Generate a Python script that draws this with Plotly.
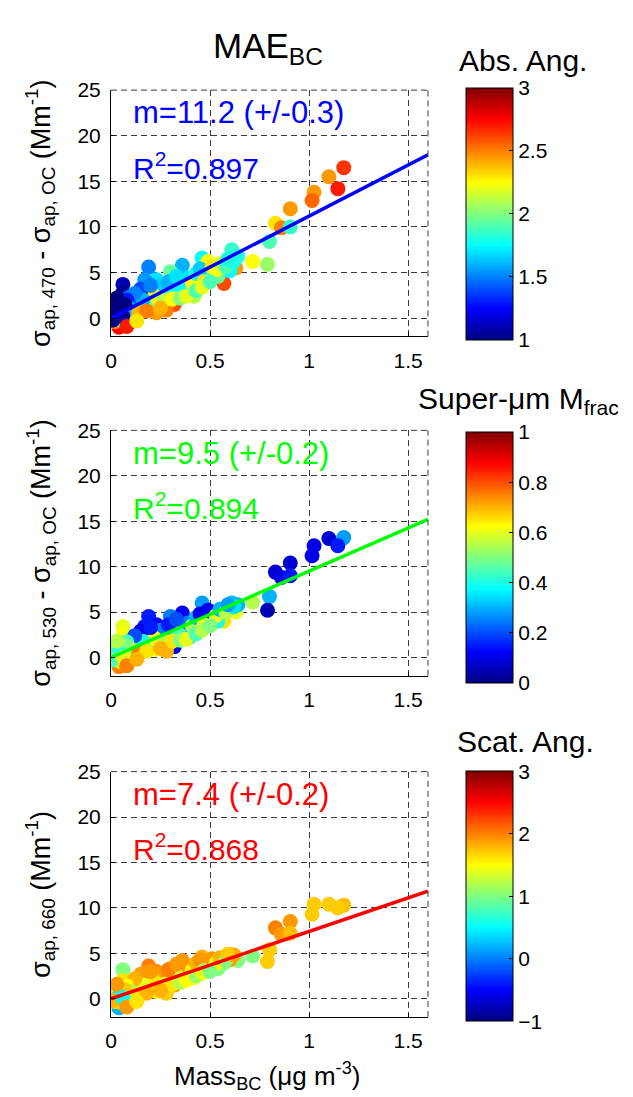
import plotly.graph_objects as go

# ---- data (Mass_BC, ug m-3) shared by the three panels ----
mass_bc = [1.175, 1.10, 1.145, 1.025, 1.015, 0.905, 0.83, 0.86, 0.905, 0.80,
           0.715, 0.79, 0.63, 0.57, 0.61, 0.64, 0.46, 0.49, 0.36, 0.19,
           0.30, 0.23, 0.17, 0.06, 0.06, 0.40, 0.32, 0.24, 0.23, 0.42,
           0.48, 0.52, 0.56, 0.54, 0.04, 0.02, 0.02, 0.05, 0.09, 0.13,
           0.18, 0.14, 0.20, 0.27, 0.35, 0.38, 0.37, 0.10, 0.08, 0.03,
           0.01, 0.04, 0.07, 0.11, 0.16, 0.12, 0.21, 0.26, 0.29, 0.33,
           0.44, 0.50, 0.60, 0.15, 0.06, 0.03, 0.09, 0.05, 0.19, 0.28,
           0.25, 0.31, 0.34, 0.39, 0.41, 0.43, 0.45, 0.47, 0.51, 0.53,
           0.55, 0.58, 0.62, 0.59, 0.22, 0.27, 0.31, 0.35, 0.38, 0.43,
           0.46, 0.50, 0.16, 0.12, 0.08, 0.10, 0.14, 0.18, 0.07, 0.02,
           0.04, 0.01, 0.06, 0.03, 0.08, 0.13, 0.25, 0.20, 0.29, 0.33]

# panel 1: sigma_ap,470 - sigma_ap,OC, colour = absorption Angstrom exponent
sig470 = [16.5, 15.5, 14.2, 13.8, 12.9, 12.0, 10.4, 9.9, 10.0, 8.4,
          6.2, 5.9, 5.5, 3.8, 7.5, 6.8, 6.6, 6.2, 5.8, 5.6,
          5.1, 4.2, 4.2, 3.7, 2.8, 3.2, 1.5, 1.7, 0.6, 2.4,
          4.2, 5.0, 5.7, 4.6, -1.0, -0.4, 0.6, 1.7, 1.2, 2.2,
          2.6, 1.8, 2.9, 3.3, 4.1, 3.8, 2.7, 0.3, -0.4, 0.0,
          0.3, 1.0, 0.5, 1.6, 1.0, 0.4, 2.0, 2.3, 1.8, 2.5,
          3.6, 4.8, 5.2, 3.2, 0.8, 1.3, 2.3, -0.2, 1.4, 0.9,
          3.5, 3.0, 3.4, 4.4, 3.9, 4.9, 5.4, 4.0, 5.6, 5.3,
          6.0, 5.6, 6.2, 6.5, 2.4, 2.0, 2.1, 2.2, 2.4, 3.0,
          3.4, 4.0, 2.0, 2.7, 2.0, 1.0, 0.6, 0.8, 1.5, 1.0,
          0.4, -0.2, 0.2, 2.2, -0.9, -0.3, 1.1, 3.6, 4.0, 4.6]
abs_ang = [2.65, 2.45, 2.7, 2.45, 2.55, 2.45, 2.3, 2.5, 1.85, 1.9,
           2.25, 2.05, 2.45, 2.6, 1.85, 1.8, 1.75, 2.25, 1.6, 1.5,
           1.95, 1.7, 1.55, 1.1, 1.05, 1.7, 2.6, 1.95, 2.45, 2.1,
           2.3, 2.4, 2.2, 1.95, 2.75, 2.5, 1.05, 1.05, 1.3, 1.35,
           1.6, 1.4, 2.8, 1.9, 2.2, 2.05, 1.75, 2.2, 1.7, 1.0,
           1.0, 1.0, 1.3, 1.2, 2.3, 2.25, 1.7, 1.5, 2.3, 1.85,
           2.3, 1.8, 1.75, 1.4, 1.15, 1.1, 1.45, 1.9, 2.0, 2.5,
           1.65, 1.8, 1.75, 1.7, 2.25, 1.8, 1.65, 2.3, 2.3, 2.25,
           2.2, 1.9, 1.8, 1.8, 2.2, 2.1, 2.25, 2.0, 2.2, 1.9,
           2.2, 1.9, 1.6, 1.5, 1.3, 1.6, 2.4, 2.5, 1.0, 1.0,
           1.0, 1.0, 1.05, 1.0, 2.7, 2.3, 2.4, 1.5, 1.6, 1.7]

# panel 2: sigma_ap,530 - sigma_ap,OC, colour = super-micron mass fraction
sig530 = [13.2, 13.1, 12.3, 12.3, 11.2, 10.4, 9.4, 8.8, 9.0, 6.7,
          6.1, 5.2, 5.0, 4.0, 6.0, 5.8, 6.0, 5.2, 4.9, 4.5,
          4.5, 3.6, 3.4, 3.4, 2.5, 2.3, 1.2, 1.7, 0.9, 2.6,
          3.8, 4.4, 4.8, 4.0, -1.0, -0.3, 0.5, 1.5, 1.0, 2.0,
          2.3, 1.6, 2.2, 2.8, 3.1, 3.4, 2.5, 0.2, -0.3, 0.3,
          0.1, 0.8, 0.4, 1.5, 1.1, 0.2, 1.8, 2.0, 1.5, 2.0,
          3.2, 4.3, 5.5, 2.9, 0.8, 1.0, 2.0, -0.5, 1.2, 0.7,
          3.0, 2.6, 3.0, 3.8, 3.5, 4.4, 4.8, 3.6, 5.0, 4.6,
          5.3, 5.0, 5.6, 5.8, 2.1, 1.8, 1.8, 1.9, 2.0, 2.6,
          3.0, 3.5, 1.8, 2.4, 1.7, 0.9, 0.4, 0.7, 1.3, 0.9,
          0.5, -0.2, 0.0, 1.8, -0.9, -0.2, 1.0, 3.3, 3.6, 4.2]
super_frac = [0.28, 0.08, 0.15, 0.10, 0.10, 0.08, 0.08, 0.10, 0.15, 0.30,
              0.55, 0.05, 0.60, 0.65, 0.30, 0.30, 0.28, 0.10, 0.12, 0.15,
              0.25, 0.12, 0.15, 0.60, 0.62, 0.35, 0.10, 0.45, 0.60, 0.60,
              0.62, 0.60, 0.62, 0.40, 0.75, 0.40, 0.35, 0.60, 0.75, 0.50,
              0.45, 0.70, 0.20, 0.10, 0.12, 0.15, 0.30, 0.65, 0.70, 0.40,
              0.35, 0.30, 0.80, 0.55, 0.60, 0.65, 0.30, 0.20, 0.60, 0.45,
              0.60, 0.35, 0.20, 0.10, 0.40, 0.55, 0.60, 0.65, 0.40, 0.70,
              0.25, 0.30, 0.45, 0.25, 0.55, 0.30, 0.10, 0.62, 0.12, 0.60,
              0.30, 0.55, 0.35, 0.28, 0.62, 0.55, 0.65, 0.50, 0.60, 0.45,
              0.55, 0.50, 0.40, 0.20, 0.45, 0.55, 0.75, 0.65, 0.50, 0.45,
              0.40, 0.45, 0.60, 0.55, 0.75, 0.70, 0.70, 0.15, 0.15, 0.20]

# panel 3: sigma_ap,660, colour = scattering Angstrom exponent
sig660 = [10.3, 10.4, 10.0, 10.4, 9.3, 8.5, 7.8, 7.1, 7.2, 5.4,
          4.7, 4.1, 4.6, 3.9, 4.8, 4.2, 4.6, 4.0, 4.2, 3.6,
          3.3, 3.0, 2.8, 3.2, 2.0, 2.5, 1.5, 1.5, 0.8, 2.3,
          3.6, 3.8, 4.1, 3.3, -1.0, -0.3, 0.6, 1.4, 0.8, 1.6,
          2.0, 1.3, 1.9, 2.6, 3.0, 3.2, 2.1, 0.4, -0.5, 0.2,
          0.0, 0.5, 0.6, 1.0, 0.7, 0.0, 1.7, 2.0, 1.3, 2.0,
          3.0, 3.8, 4.3, 2.7, 0.3, 0.9, 1.8, -0.4, 1.1, 0.6,
          2.8, 2.4, 2.7, 3.5, 3.1, 3.9, 4.3, 3.1, 4.4, 3.9,
          4.5, 4.2, 4.8, 4.9, 1.9, 1.6, 1.6, 1.8, 2.0, 2.5,
          2.8, 3.0, 1.5, 2.2, 1.4, 0.8, 0.5, 0.6, 1.0, 0.8,
          0.3, -0.2, 0.1, 1.6, -0.9, -0.3, 0.9, 3.0, 3.2, 3.8]
scat_ang = [1.75, 1.7, 1.7, 1.7, 1.7, 1.9, 2.0, 1.9, 1.75, 1.7,
            1.0, 1.7, 1.85, 1.0, 1.8, 1.0, 1.8, 1.9, 1.9, 2.0,
            1.9, 2.0, 1.9, 1.0, 1.6, 1.5, 1.9, 1.4, 1.5, 1.5,
            1.5, 1.0, 1.0, 1.0, 0.2, 1.6, 1.8, 1.7, 2.0, 1.5,
            1.3, 1.6, 1.8, 1.8, 1.8, 1.8, 1.2, 0.6, 0.2, 2.1,
            2.2, 1.5, 0.3, 1.2, 1.6, 1.4, 1.2, 1.2, 1.5, 1.1,
            1.6, 1.9, 1.9, 1.9, 0.5, 1.9, 1.6, 1.7, 1.0, 1.7,
            1.9, 1.7, 1.3, 1.9, 1.5, 1.8, 1.9, 1.1, 1.9, 1.5,
            1.8, 1.0, 1.85, 1.7, 1.6, 1.4, 1.6, 1.2, 1.5, 1.1,
            1.4, 1.0, 1.4, 1.8, 1.5, 1.2, 1.6, 1.8, 1.7, 1.6,
            0.4, 1.8, 0.5, 1.9, 1.9, 1.6, 1.8, 1.9, 2.0, 1.9]

slopes = [11.2, 9.5, 7.4]
slope_err = [0.3, 0.2, 0.2]
r2 = [0.897, 0.894, 0.868]
fit_x = [0.0, 1.6]
fit_colors = ["#0000ff", "#00ff00", "#ff0000"]
cb_ranges = [(1, 3), (0, 1), (-1, 3)]
cb_ticks = [[1, 1.5, 2, 2.5, 3], [0, 0.2, 0.4, 0.6, 0.8, 1], [-1, 0, 1, 2, 3]]
cb_titles = ["Abs. Ang.", "Super-\u03bcm M<sub>frac</sub>", "Scat. Ang."]
y_titles = ["\u03c3<sub>ap, 470</sub> - \u03c3<sub>ap, OC</sub> (Mm<sup>-1</sup>)",
            "\u03c3<sub>ap, 530</sub> - \u03c3<sub>ap, OC</sub> (Mm<sup>-1</sup>)",
            "\u03c3<sub>ap, 660</sub> (Mm<sup>-1</sup>)"]
x_ticks = [0, 0.5, 1, 1.5]
y_ticks = [0, 5, 10, 15, 20, 25]

# ---- layout geometry (pixels) ----
W, H = 633, 1097
FONT = "Liberation Sans, Arial, Helvetica, sans-serif"
ax_left, ax_right = 106, 426
ax_tb = [(79, 328), (423, 671), (768, 1016)]
cb_left, cb_w = 464, 47
cb_tb = [(78, 330), (426, 677), (769, 1019)]
GRID = "#3a3a3a"
DASH = "6px,4px"

jet = [[0.0, "rgb(0,0,128)"], [0.125, "rgb(0,0,255)"], [0.375, "rgb(0,255,255)"],
       [0.625, "rgb(255,255,0)"], [0.875, "rgb(255,0,0)"], [1.0, "rgb(128,0,0)"]]


def px(x):
    return x / W


def py(y):
    return 1 - y / H


fig = go.Figure()
ys = [sig470, sig530, sig660]
cs = [abs_ang, super_frac, scat_ang]

for i in range(3):
    xa = "x" if i == 0 else f"x{i+1}"
    ya = "y" if i == 0 else f"y{i+1}"
    top, bot = cb_tb[i]
    fig.add_trace(go.Scatter(
        x=mass_bc, y=ys[i], mode="markers", xaxis=xa, yaxis=ya,
        marker=dict(size=15, color=cs[i], colorscale=jet,
                    cmin=cb_ranges[i][0], cmax=cb_ranges[i][1],
                    line=dict(width=0),
                    colorbar=dict(
                        x=px(cb_left), xanchor="left", xpad=0, ypad=0,
                        y=py((top + bot) / 2), yanchor="middle",
                        len=bot - top, lenmode="pixels",
                        thickness=cb_w, thicknessmode="pixels",
                        outlinecolor="black", outlinewidth=1,
                        tickvals=cb_ticks[i], ticks="inside", ticklen=4,
                        tickcolor="black",
                        tickfont=dict(family=FONT, size=21, color="black"))),
        showlegend=False, hoverinfo="skip"))
    fit_y = [slopes[i] * v for v in fit_x]
    fig.add_trace(go.Scatter(
        x=fit_x, y=fit_y, mode="lines", xaxis=xa, yaxis=ya,
        line=dict(color=fit_colors[i], width=3.5), showlegend=False,
        hoverinfo="skip"))

    t, b = ax_tb[i]
    axis_common = dict(showline=True, linecolor="black", linewidth=1,
                       showgrid=True, gridcolor=GRID, gridwidth=1,
                       griddash=DASH, zeroline=False,
                       ticks="inside", ticklen=4, tickcolor="black",
                       ticklabelstandoff=5,
                       tickfont=dict(family=FONT, size=21, color="black"))
    fig.layout[f"xaxis{'' if i == 0 else i+1}"] = dict(
        domain=[px(ax_left), px(ax_right)], anchor=ya, range=[0, 1.6],
        tickvals=x_ticks, ticktext=["0", "0.5", "1", "1.5"], **axis_common)
    fig.layout[f"yaxis{'' if i == 0 else i+1}"] = dict(
        domain=[py(b), py(t)], anchor=xa, range=[-2, 25],
        tickvals=y_ticks, **axis_common)

    # dashed top and right borders
    fig.add_shape(type="line", xref=f"{xa} domain", yref=f"{ya} domain",
                  x0=0, x1=1, y0=1, y1=1,
                  line=dict(color=GRID, width=1, dash=DASH))
    fig.add_shape(type="line", xref=f"{xa} domain", yref=f"{ya} domain",
                  x0=1, x1=1, y0=0, y1=1,
                  line=dict(color=GRID, width=1, dash=DASH))

    # fit annotations
    fig.add_annotation(x=0.1, y=22.5, xref=xa, yref=ya, xanchor="left",
                       yanchor="middle", showarrow=False,
                       text=f"m={slopes[i]} (+/-{slope_err[i]})",
                       font=dict(family=FONT, size=31, color=fit_colors[i]))
    fig.add_annotation(x=0.1, y=16.7, xref=xa, yref=ya, xanchor="left",
                       yanchor="middle", showarrow=False,
                       text=f"R<sup>2</sup>={r2[i]}",
                       font=dict(family=FONT, size=30, color=fit_colors[i]))

    # y-axis title
    fig.add_annotation(x=px(35), y=py((t + b) / 2), xref="paper", yref="paper",
                       xanchor="center", yanchor="middle", showarrow=False,
                       textangle=-90, text=y_titles[i],
                       font=dict(family=FONT, size=27, color="black"))

# colourbar titles
fig.add_annotation(x=px(522), y=py(49), xref="paper", yref="paper",
                   xanchor="center", yanchor="middle", showarrow=False,
                   text=cb_titles[0], font=dict(family=FONT, size=30, color="black"))
fig.add_annotation(x=px(414), y=py(393), xref="paper", yref="paper",
                   xanchor="left", yanchor="middle", showarrow=False,
                   text=cb_titles[1], font=dict(family=FONT, size=30, color="black"))
fig.add_annotation(x=px(524), y=py(738), xref="paper", yref="paper",
                   xanchor="center", yanchor="middle", showarrow=False,
                   text=cb_titles[2], font=dict(family=FONT, size=30, color="black"))

# main title
fig.add_annotation(x=px(265), y=py(36), xref="paper", yref="paper",
                   xanchor="center", yanchor="middle", showarrow=False,
                   text="MAE<sub>BC</sub>",
                   font=dict(family=FONT, size=35, color="black"))
# x-axis title
fig.add_annotation(x=px(263), y=py(1076), xref="paper", yref="paper",
                   xanchor="center", yanchor="middle", showarrow=False,
                   text="Mass<sub>BC</sub> (\u03bcg m<sup>-3</sup>)",
                   font=dict(family=FONT, size=26, color="black"))

fig.update_layout(width=W, height=H, margin=dict(l=0, r=0, t=0, b=0),
                  paper_bgcolor="white", plot_bgcolor="white",
                  font=dict(family=FONT, color="black"))

fig.write_html("out.html",
               post_script="document.body.style.margin='0px';"
                           "document.documentElement.style.margin='0px';")
